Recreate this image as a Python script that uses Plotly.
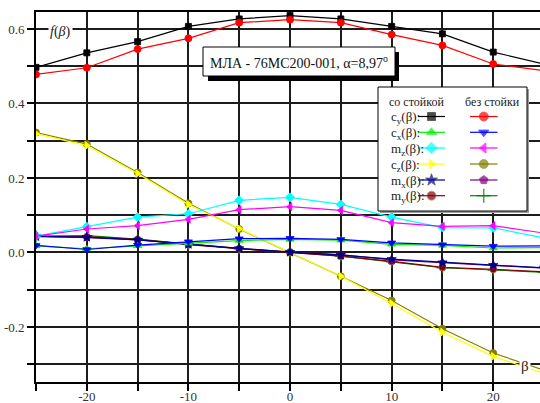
import plotly.graph_objects as go

# Sideslip angle, degrees
beta = [-25, -20, -15, -10, -5, 0, 5, 10, 15, 20, 25]

# Aerodynamic coefficients: "с стойкой" (with strut) / "без стойки" (without strut)
cy_with = [0.497, 0.536, 0.566, 0.607, 0.627, 0.636, 0.627, 0.607, 0.587, 0.538, 0.506]
cy_without = [0.478, 0.496, 0.546, 0.575, 0.617, 0.625, 0.617, 0.585, 0.556, 0.506, 0.488]
cx_with = [0.018, 0.010, 0.018, 0.025, 0.032, 0.035, 0.033, 0.022, 0.019, 0.012, 0.013]
cx_without = [0.019, 0.008, 0.020, 0.029, 0.037, 0.038, 0.035, 0.026, 0.021, 0.017, 0.018]
mz_with = [0.044, 0.069, 0.095, 0.104, 0.140, 0.148, 0.129, 0.095, 0.067, 0.066, 0.039]
mz_without = [0.044, 0.063, 0.072, 0.089, 0.115, 0.123, 0.113, 0.080, 0.070, 0.072, 0.052]
cz_with = [0.319, 0.287, 0.212, 0.129, 0.064, 0.000, -0.064, -0.137, -0.214, -0.279, -0.325]
cz_without = [0.322, 0.291, 0.215, 0.132, 0.063, 0.000, -0.064, -0.129, -0.205, -0.270, -0.316]
mx_with = [0.043, 0.041, 0.034, 0.022, 0.011, 0.001, -0.007, -0.018, -0.027, -0.034, -0.041]
mx_without = [0.043, 0.040, 0.034, 0.022, 0.011, 0.001, -0.006, -0.020, -0.028, -0.035, -0.042]
my_with = [0.043, 0.042, 0.035, 0.021, 0.010, 0.001, -0.010, -0.024, -0.040, -0.045, -0.052]
my_without = [0.044, 0.045, 0.036, 0.022, 0.010, 0.001, -0.010, -0.025, -0.041, -0.047, -0.053]

x_tick_vals = [-20, -10, 0, 10, 20]
x_tick_text = ["-20", "-10", "0", "10", "20"]
y_tick_vals = [-0.2, 0.0, 0.2, 0.4, 0.6]
y_tick_text = ["-0.2", "0.0", "0.2", "0.4", "0.6"]

row_labels = ["c<sub>y</sub>(β):", "c<sub>x</sub>(β):", "m<sub>z</sub>(β):",
              "c<sub>z</sub>(β):", "m<sub>x</sub>(β):", "m<sub>y</sub>(β):"]
header_with = "со стойкой"
header_without = "без стойки"
title_text = "МЛА - 76МС200-001, α=8,97<sup>o</sup>"

SERIF = "Liberation Serif"
X_RANGE = [-25, 24.6]
Y_RANGE = [-0.3477, 0.6456]
GRID = "#1c1c1c"
GRID_W = 1.8

# (values, colour, marker symbol, marker size, marker line colour) per row, two columns
series = [
    ((cy_with, "#000000", "square", 6, "#000000"), (cy_without, "#ff0000", "circle", 7, "#ff0000")),
    ((cx_with, "#00ee00", "triangle-up", 7, "#00ee00"), (cx_without, "#0000ff", "triangle-down", 7, "#0000ff")),
    ((mz_with, "#00ffff", "diamond", 7, "#00ffff"), (mz_without, "#ff00ff", "triangle-left", 7, "#ff00ff")),
    ((cz_with, "#ffff00", "triangle-right", 7, "#ffff00"), (cz_without, "#808000", "circle", 7, "#808000")),
    ((mx_with, "#000080", "star", 7, "#000080"), (mx_without, "#800080", "pentagon", 7, "#800080")),
    ((my_with, "#800000", "circle", 7, "#b06060"), (my_without, "#008000", "cross-thin", 8, "#008000")),
]


def marker_style(sym, size, col, lcol, sizes=None):
    return dict(symbol=sym, size=size if sizes is None else sizes, color=col,
                line=dict(color=lcol, width=1.5 if sym == "cross-thin" else 0.8))


fig = go.Figure()

draw_order = [(3, 1), (3, 0), (5, 1), (5, 0), (4, 1), (4, 0), (1, 0), (1, 1),
              (2, 0), (2, 1), (0, 0), (0, 1)]
for r, c in draw_order:
    vals, col, sym, size, lcol = series[r][c]
    fig.add_trace(go.Scatter(x=beta, y=vals, mode="lines+markers",
                             line=dict(color=col, width=1.2),
                             marker=marker_style(sym, size, col, lcol),
                             showlegend=False, hoverinfo="skip"))


# overlay pixel-space axes for the key box and the caption box
def px_rect(x0, y0, x1, y1, fill, line_col, line_w):
    fig.add_trace(go.Scatter(x=[x0, x1, x1, x0, x0], y=[y0, y0, y1, y1, y0],
                             xaxis="x2", yaxis="y2", mode="lines", fill="toself",
                             fillcolor=fill, line=dict(color=line_col, width=line_w),
                             showlegend=False, hoverinfo="skip"))


# caption box with shadow
px_rect(208, 52, 399, 81, "#000000", "#000000", 0)
px_rect(203, 47, 395, 76, "#ffffff", "#000000", 1)
# key box with faint shadow
px_rect(380, 89, 529, 213, "#9a9a9a", "#9a9a9a", 0)
px_rect(378, 87, 527, 211, "#ffffff", "#000000", 1)

row_y = [116.5, 132.3, 148.0, 164.0, 180.0, 195.7]
col_line = [(418.0, 445.0), (470.0, 497.5)]
for r, yy in enumerate(row_y):
    for c in range(2):
        vals, col, sym, size, lcol = series[r][c]
        x0, x1 = col_line[c]
        xc = (x0 + x1) / 2
        fig.add_trace(go.Scatter(
            x=[x0, xc, x1], y=[yy, yy, yy], xaxis="x2", yaxis="y2",
            mode="lines+markers", line=dict(color=col, width=1.2),
            marker=marker_style(sym, size, col, lcol, sizes=[0, size + 2, 0]),
            showlegend=False, hoverinfo="skip"))
    fig.add_annotation(x=389, y=yy + 1, xref="x2", yref="y2", text=row_labels[r],
                       showarrow=False, xanchor="left", yanchor="middle",
                       font=dict(family=SERIF, size=13, color="#222222"))

fig.add_annotation(x=416, y=102, xref="x2", yref="y2", text=header_with, showarrow=False,
                   xanchor="center", yanchor="middle", font=dict(family=SERIF, size=12, color="#222222"))
fig.add_annotation(x=492, y=102, xref="x2", yref="y2", text=header_without, showarrow=False,
                   xanchor="center", yanchor="middle", font=dict(family=SERIF, size=12, color="#222222"))
fig.add_annotation(x=299, y=62, xref="x2", yref="y2", text=title_text, showarrow=False,
                   xanchor="center", yanchor="middle", font=dict(family=SERIF, size=14, color="#111111"))

# axis captions on white patches
fig.add_annotation(x=60, y=32, xref="x2", yref="y2", text="<i>f</i>(<i>β</i>)", showarrow=False,
                   xanchor="center", yanchor="middle", bgcolor="#ffffff", borderpad=1,
                   font=dict(family=SERIF, size=14, color="#222222"))
fig.add_annotation(x=525, y=366, xref="x2", yref="y2", text="β", showarrow=False,
                   xanchor="center", yanchor="middle", bgcolor="#ffffff", borderpad=1,
                   font=dict(family=SERIF, size=15, color="#222222"))

fig.update_layout(
    width=540, height=403,
    margin=dict(l=36, r=0, t=12, b=21, autoexpand=False),
    paper_bgcolor="#ffffff", plot_bgcolor="#ffffff",
    font=dict(family=SERIF, size=13, color="#333333"),
    xaxis=dict(range=X_RANGE, tickvals=x_tick_vals, ticktext=x_tick_text, automargin=False,
               ticks="outside", ticklen=7, tickcolor="#000000", tickwidth=1.8,
               showline=True, linecolor="#000000", linewidth=1.8, mirror=True,
               showgrid=True, gridcolor=GRID, gridwidth=GRID_W, zeroline=False,
               minor=dict(dtick=5, tick0=0, ticks="outside", ticklen=7, tickcolor="#000000",
                          tickwidth=1.8, showgrid=True, gridcolor=GRID, gridwidth=GRID_W),
               ticklabelstandoff=-6,
               tickfont=dict(family=SERIF, size=13, color="#333333")),
    yaxis=dict(range=Y_RANGE, tickvals=y_tick_vals, ticktext=y_tick_text, automargin=False,
               ticks="outside", ticklen=7, tickcolor="#000000", tickwidth=1.8,
               showline=True, linecolor="#000000", linewidth=1.8,
               showgrid=True, gridcolor=GRID, gridwidth=GRID_W, zeroline=False,
               minor=dict(dtick=0.1, tick0=0, ticks="outside", ticklen=7, tickcolor="#000000",
                          tickwidth=1.8, showgrid=True, gridcolor=GRID, gridwidth=GRID_W),
               tickfont=dict(family=SERIF, size=13, color="#333333")),
    xaxis2=dict(overlaying="x", range=[36, 540], visible=False, fixedrange=True),
    yaxis2=dict(overlaying="y", range=[382, 12], visible=False, fixedrange=True),
)

fig.write_html("out.html")
